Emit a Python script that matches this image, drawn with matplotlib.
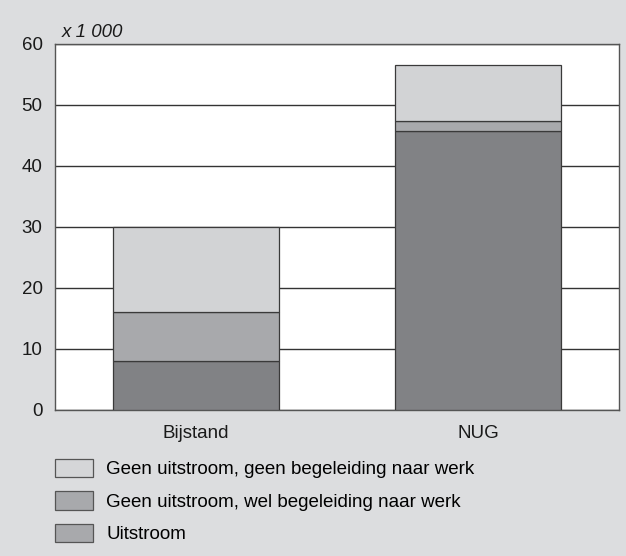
import matplotlib.pyplot as plt
from matplotlib.patches import Patch
import numpy as np

categories = ["Bijstand", "NUG"]
uitstroom = [8.0, 45.8]
wel_begeleiding = [8.0, 1.5]
geen_begeleiding = [14.0, 9.3]

labels = ["Geen uitstroom, geen begeleiding naar werk",
          "Geen uitstroom, wel begeleiding naar werk",
          "Uitstroom"]
yticks = [0, 10, 20, 30, 40, 50, 60]

bar_colors = ["#818285", "#a8a9ac", "#d2d3d5"]
legend_colors = ["#d5d6d8", "#a8a9ac", "#a8a9ac"]
bg = "#dcdddf"
edge = "#3a3a3a"

plt.rcParams['font.family'] = ['Liberation Sans', 'DejaVu Sans']
fs = 13.5

fig = plt.figure(figsize=(6.26, 5.56), dpi=100, facecolor=bg)
ax = fig.add_axes([0.0879, 0.2626, 0.9009, 0.6583])
ax.set_facecolor("white")

x = np.arange(len(categories))
w = 0.59
bottom = np.zeros(len(categories))
for vals, col in zip([uitstroom, wel_begeleiding, geen_begeleiding], bar_colors):
    ax.bar(x, vals, w, bottom=bottom, color=col, edgecolor=edge, linewidth=0.9, zorder=3)
    bottom += np.array(vals)

ax.set_xlim(-0.5, 1.5)
ax.set_ylim(0, 60)
ax.set_yticks(yticks)
ax.set_xticks(x)
ax.set_xticklabels(categories)
ax.tick_params(axis='both', length=0, labelsize=fs, colors="#1a1a1a")
ax.tick_params(axis='y', pad=9)
ax.tick_params(axis='x', pad=11)
ax.yaxis.grid(True, color="#333333", linewidth=1.0, zorder=1)
ax.set_axisbelow(True)
for s in ax.spines.values():
    s.set_color("#555555")
    s.set_linewidth(1.0)

fig.text(0.099, 0.942, "x 1 000", fontsize=fs, style='italic', color="#1a1a1a", va='center')

handles = [Patch(facecolor=c, edgecolor="#555555", linewidth=0.9) for c in legend_colors]
fig.legend(handles, labels, loc='upper left', bbox_to_anchor=(0.0879, 0.175),
           frameon=False, fontsize=fs, handlelength=2.03, handleheight=1.15,
           handletextpad=0.7, labelspacing=0.68, borderaxespad=0, borderpad=0)

fig.savefig("out.png", dpi=100, facecolor=bg)
